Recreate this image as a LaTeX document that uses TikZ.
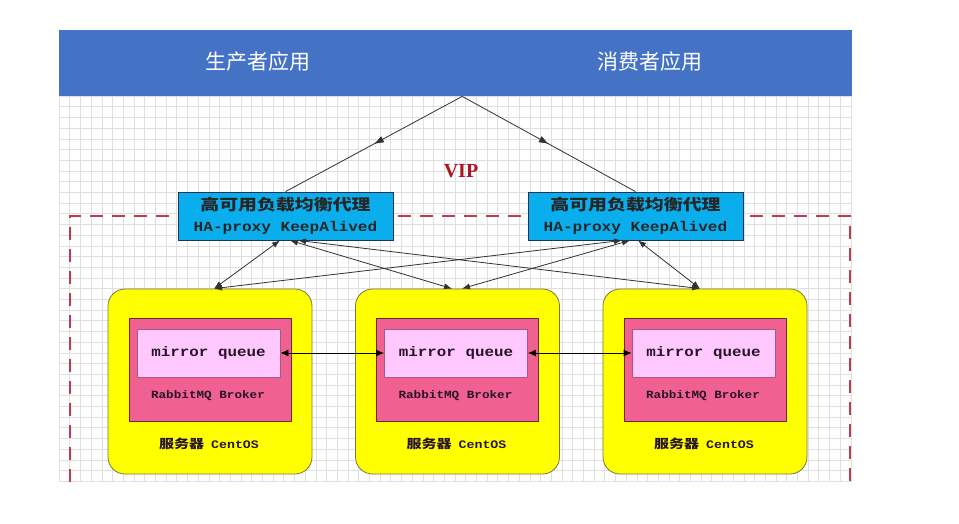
\documentclass[tikz,border=0pt]{standalone}
\usepackage{fontspec}
\setmainfont{Liberation Serif}
\newfontfamily\cjk{Noto Sans CJK SC}
\newfontfamily\cjkw[FakeStretch=1.22]{Noto Sans CJK SC}
\newfontfamily\monob[FakeStretch=1.15]{Liberation Mono}
\usetikzlibrary{arrows.meta,decorations.markings}
\definecolor{hdrblue}{RGB}{68,114,196}
\definecolor{gridc}{RGB}{224,224,226}
\definecolor{proxyfill}{RGB}{10,174,236}
\definecolor{proxyline}{RGB}{30,50,90}
\definecolor{srvfill}{RGB}{255,255,0}
\definecolor{srvline}{RGB}{120,120,60}
\definecolor{brkfill}{RGB}{240,96,144}
\definecolor{brkline}{RGB}{110,40,60}
\definecolor{mqfill}{RGB}{255,200,255}
\definecolor{mqline}{RGB}{170,90,130}
\definecolor{dashred}{RGB}{190,60,75}
\definecolor{vipred}{RGB}{170,20,35}
\definecolor{txtdark}{RGB}{40,20,40}
\definecolor{arrc}{RGB}{50,50,50}
\begin{document}
\begin{tikzpicture}[x=1pt,y=-1pt,
  hdrtext/.style={text=white, font=\cjk\fontsize{21}{24}\selectfont, inner sep=0},
  proxy/.style={draw=proxyline, fill=proxyfill, line width=0.8pt, minimum width=215pt, minimum height=48pt, inner sep=0, align=center, text=black!85, font=\fontsize{14}{21}\selectfont},
  srvbox/.style={draw=srvline, fill=srvfill, line width=0.8pt, rounded corners=17pt, minimum width=204pt, minimum height=185pt, inner sep=0},
  brkbox/.style={draw=brkline, fill=brkfill, line width=0.8pt, minimum width=162pt, minimum height=103pt, inner sep=0},
  mqbox/.style={draw=mqline, fill=mqfill, line width=0.8pt, minimum width=143pt, minimum height=48pt, inner sep=0, text=txtdark, font=\monob\bfseries\fontsize{13.8}{16}\selectfont},
  brktext/.style={text=txtdark, inner sep=0, font=\monob\bfseries\fontsize{11}{13}\selectfont},
  srvtext/.style={text=txtdark, inner sep=0},
  conn/.style={draw=arrc, line width=0.8pt, {Latex[length=8pt,width=6pt]}-{Latex[length=8pt,width=6pt]}},
  midarrow/.style={draw=arrc, line width=0.8pt, postaction={decorate}, decoration={markings, mark=at position 0.5 with {\arrow{Latex[length=10pt,width=7pt]}}}},
  mqarrow/.style={draw=black, line width=0.8pt, {Latex[length=8pt,width=7pt]}-{Latex[length=8pt,width=7pt]}}
]
\useasboundingbox (0,0) rectangle (959,523);
\fill[white] (0,0) rectangle (959,523);
% grid
\foreach \k in {0,...,74} \draw[gridc, line width=0.5pt] (59+\k*10.7,96) -- (59+\k*10.7,482);
\foreach \k in {0,...,36} \draw[gridc, line width=0.5pt] (59,96+\k*10.7) -- (852,96+\k*10.7);
% header
\node[fill=hdrblue, minimum width=793pt, minimum height=66pt, inner sep=0, anchor=north west] (hdr) at (59,30) {};
\node[hdrtext] (prod) at (257.5,62) {生产者应用};
\node[hdrtext] (cons) at (650,62) {消费者应用};
\coordinate (apex) at ([xshift=6.5pt]hdr.south);
% dashed VIP region
\draw[dashred, line width=1.2pt, dash pattern=on 13pt off 9pt] (70,482) |- (850,216) -- (850,482);
\node[text=vipred, font=\bfseries\fontsize{20}{22}\selectfont, inner sep=0] (vip) at (461,171) {VIP};
% proxies
\node[proxy] (lp) at (285.5,216) {{\cjkw\bfseries\fontsize{15.5}{21}\selectfont 高可用负载均衡代理}\\{\monob\bfseries HA-proxy KeepAlived}};
\node[proxy] (rp) at (635.5,216) {{\cjkw\bfseries\fontsize{15.5}{21}\selectfont 高可用负载均衡代理}\\{\monob\bfseries HA-proxy KeepAlived}};
\draw[midarrow] (apex) -- (lp.north);
\draw[midarrow] (apex) -- (rp.north);
% servers
\foreach \i/\dx in {1/0,2/247.5,3/495} {
  \node[srvbox] (s\i) at (210+\dx,381.5) {};
  \node[brkbox] (b\i) at (210+\dx,369.5) {};
  \node[mqbox] (q\i) at (208.5+\dx,353) {mirror queue};
  \node[brktext] (r\i) at (208+\dx,396) {RabbitMQ Broker};
  \node[srvtext] (c\i) at (209+\dx,444) {{\cjkw\bfseries\fontsize{12.3}{14}\selectfont 服务器}\hspace{7pt}{\monob\bfseries\fontsize{11.5}{14}\selectfont CentOS}};
}
\draw[mqarrow] (q1.east) -- (q2.west);
\draw[mqarrow] (q2.east) -- (q3.west);
% proxy to server links
\draw[conn] ([xshift=-5.5pt]lp.south) -- ([xshift=4pt]s1.north);
\draw[conn] ([xshift=4.5pt]lp.south) -- ([xshift=-5.5pt]s2.north);
\draw[conn] ([xshift=12.5pt]lp.south) -- ([xshift=-5pt]s3.north);
\draw[conn] ([xshift=-13.5pt]rp.south) -- ([xshift=4pt]s1.north);
\draw[conn] ([xshift=-5.5pt]rp.south) -- ([xshift=4.5pt]s2.north);
\draw[conn] ([xshift=2.5pt]rp.south) -- ([xshift=-5pt]s3.north);
\end{tikzpicture}
\end{document}
